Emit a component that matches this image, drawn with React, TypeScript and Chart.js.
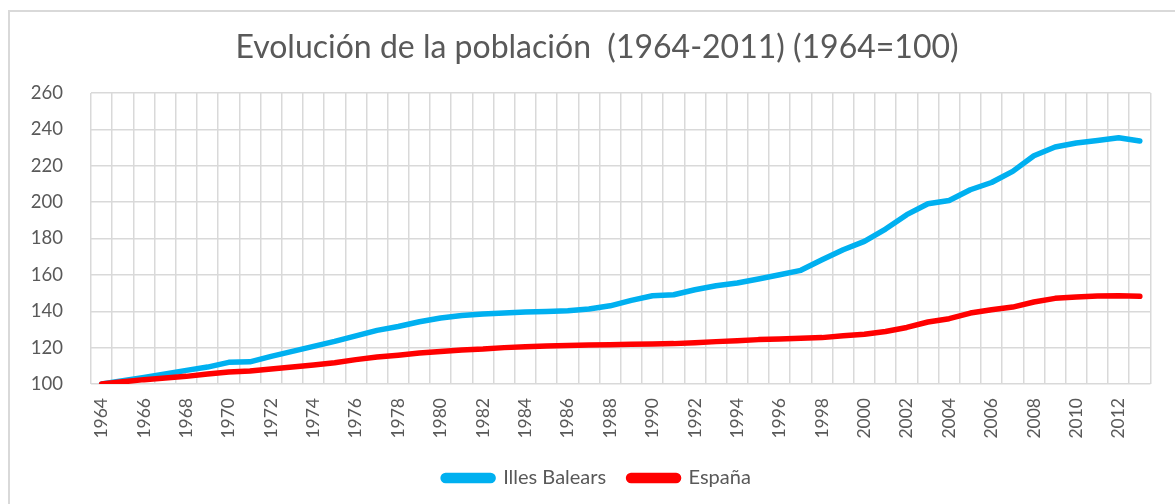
import React, { useEffect, useRef } from "react";
import { Chart, registerables } from "chart.js";

Chart.register(...registerables);

const years: string[] = [
  "1964", "1965", "1966", "1967", "1968", "1969", "1970", "1971", "1972", "1973",
  "1974", "1975", "1976", "1977", "1978", "1979", "1980", "1981", "1982", "1983",
  "1984", "1985", "1986", "1987", "1988", "1989", "1990", "1991", "1992", "1993",
  "1994", "1995", "1996", "1997", "1998", "1999", "2000", "2001", "2002", "2003",
  "2004", "2005", "2006", "2007", "2008", "2009", "2010", "2011", "2012", "2013",
];

const illesBalears: number[] = [
  100, 101.8, 103.6, 105.5, 107.5, 109.3, 111.9, 112.2, 115.2, 117.9,
  120.7, 123.4, 126.5, 129.5, 131.6, 134.2, 136.3, 137.7, 138.5, 139.0,
  139.6, 139.9, 140.3, 141.2, 143.0, 146.0, 148.5, 149.1, 151.8, 154.0,
  155.5, 157.7, 160.1, 162.5, 168.3, 173.8, 178.4, 185.2, 193.1, 199.1,
  200.9, 206.8, 210.8, 216.9, 225.5, 230.3, 232.5, 233.9, 235.4, 233.6,
];

const espana: number[] = [
  100, 101.2, 102.4, 103.3, 104.2, 105.5, 106.6, 107.1, 108.2, 109.3,
  110.4, 111.7, 113.4, 114.8, 115.8, 117.0, 117.9, 118.7, 119.2, 120.0,
  120.5, 120.9, 121.2, 121.4, 121.6, 121.8, 122.0, 122.2, 122.7, 123.3,
  123.8, 124.4, 124.7, 125.1, 125.5, 126.5, 127.3, 128.9, 131.1, 134.1,
  135.9, 139.0, 140.8, 142.3, 145.1, 147.1, 147.8, 148.4, 148.5, 148.2,
];

const seriesNames: string[] = ["Illes Balears", "España"];
const titleText = "Evolución de la población  (1964-2011) (1964=100)";
const yMin = 100;
const yMax = 260;
const yStep = 20;

const FONT = "Lato, 'Open Sans', sans-serif";
const TEXT = "#595959";
const GRID = "#D9D9D9";
const PAD_LEFT = 26;

// Let the y tick labels extend into the left layout padding without being clipped.
const yLabelRoom = {
  id: "yLabelRoom",
  afterLayout(chart: any) {
    if (chart.scales && chart.scales.y) chart.scales.y.left = 0;
  },
};

export default function App() {
  const ref = useRef<HTMLCanvasElement | null>(null);

  useEffect(() => {
    if (!ref.current) return;
    const chart = new Chart(ref.current, {
      type: "line",
      data: {
        labels: years,
        datasets: [
          {
            label: seriesNames[0],
            data: illesBalears,
            borderColor: "#00B0F0",
            backgroundColor: "#00B0F0",
            borderWidth: 5.5,
            pointRadius: 0,
            tension: 0,
            borderCapStyle: "round",
            borderJoinStyle: "round",
            order: 1,
          },
          {
            label: seriesNames[1],
            data: espana,
            borderColor: "#FF0000",
            backgroundColor: "#FF0000",
            borderWidth: 5.5,
            pointRadius: 0,
            tension: 0,
            borderCapStyle: "round",
            borderJoinStyle: "round",
            order: 0,
          },
        ],
      },
      plugins: [yLabelRoom],
      options: {
        animation: false,
        responsive: false,
        maintainAspectRatio: false,
        layout: { padding: { left: PAD_LEFT, right: 17, top: 0, bottom: 6 } },
        plugins: {
          title: {
            display: true,
            text: titleText,
            color: TEXT,
            font: { family: FONT, size: 32, weight: "normal" },
            padding: { top: 16, bottom: 26.6 },
          },
          legend: {
            display: true,
            position: "bottom",
            labels: {
              color: TEXT,
              font: { family: FONT, size: 20 },
              boxWidth: 50,
              boxHeight: 5,
              padding: 22.4,
              useBorderRadius: true,
              borderRadius: 2.5,
              sort: (a: any, b: any) => a.datasetIndex - b.datasetIndex,
            },
          },
          tooltip: { enabled: false },
        },
        scales: {
          x: {
            offset: true,
            grid: { offset: true, color: GRID, lineWidth: 1.5, drawTicks: false },
            border: { display: false },
            ticks: {
              autoSkip: false,
              maxRotation: 90,
              minRotation: 90,
              padding: 14,
              color: TEXT,
              font: { family: FONT, size: 17.5 },
              callback: (_v: any, i: number) => (i % 2 === 0 ? years[i] : ""),
            },
            afterFit: (s: any) => {
              s.height = 61.6;
            },
          },
          y: {
            min: yMin,
            max: yMax,
            grid: { color: GRID, lineWidth: 1.5, drawTicks: false },
            border: { display: false },
            ticks: {
              stepSize: yStep,
              padding: 28,
              color: TEXT,
              font: { family: FONT, size: 18.5 },
            },
            afterFit: (s: any) => {
              s.width = 81 - PAD_LEFT;
            },
          },
        },
      },
    });
    return () => chart.destroy();
  }, []);

  return (
    <div
      style={{
        position: "fixed",
        left: 8,
        top: 10,
        width: 1167,
        height: 494,
        borderTop: "2px solid #D9D9D9",
        borderLeft: "2px solid #D9D9D9",
        background: "#fff",
      }}
    >
      <canvas ref={ref} width={1165} height={492} style={{ display: "block" }} />
    </div>
  );
}
